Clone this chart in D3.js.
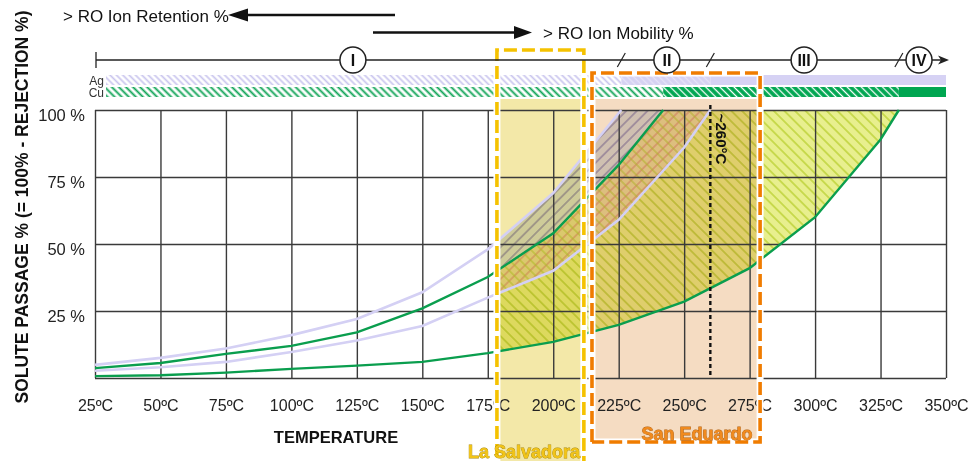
<!DOCTYPE html>
<html><head><meta charset="utf-8">
<script src="https://cdn.jsdelivr.net/npm/d3@7"></script>
<style>
body{margin:0;background:#fff;}
svg{display:block;font-family:"Liberation Sans",Arial,sans-serif;}
</style></head><body>
<svg id="c" width="968" height="461"></svg>
<script>
// ---------- data ----------
const xTicks = [25,50,75,100,125,150,175,200,225,250,275,300,325,350];
const xTickLabels = ["25ºC","50ºC","75ºC","100ºC","125ºC","150ºC","175ºC","200ºC","225ºC","250ºC","275ºC","300ºC","325ºC","350ºC"];
const yGrid = [0,25,50,75,100];
const yTickLabels = ["","25 %","50 %","75 %","100 %"];

const agUpperT = [25,50,75,100,125,150,175,200,226];
const agUpperV = [4.9,7.5,11,16,22,32,48,69,100];
const agLowerT = [25,50,75,100,125,150,175,200,225,250,260];
const agLowerV = [2.7,4,6,9.7,14,19.4,30,40,59,86,100];
const cuUpperT = [25,50,75,100,125,150,175,200,225,242];
const cuUpperV = [3.7,5.6,9,12,17,26,37.7,54,79.5,100];
const cuLowerT = [25,50,75,100,125,150,175,200,225,250,275,300,325,332];
const cuLowerV = [0.7,1,2,3.4,4.6,6,9.3,13.5,19.8,28.5,41,60,89,100];

const phaseLabels = ["I","II","III","IV"];
const phaseT = [123.5,243.4,295.8,339.7];
const slashT = [226,260,332];
const agBarBreaks = [226,260];
const cuBarBreaks = [242,332];
const salvadoraT = [178.5,211.7];
const eduardoT = [214.8,279];
const markerT = 260;

// ---------- setup ----------
const svg = d3.select("#c");
const x = d3.scaleLinear([25,350],[95,946]);
const y = d3.scaleLinear([0,100],[378,110]);
const zip = (a,b)=>a.map((t,i)=>[t,b[i]]);
const line = d3.line().x(d=>x(d[0])).y(d=>y(d[1]));
const defs = svg.append("defs");

function hatch(id, angle, s, bg, color, w){
  const p = defs.append("pattern").attr("id",id).attr("patternUnits","userSpaceOnUse")
    .attr("width",s).attr("height",s).attr("patternTransform",`rotate(${angle})`);
  if(bg) p.append("rect").attr("width",s).attr("height",s).attr("fill",bg);
  p.append("line").attr("x1",s/2).attr("x2",s/2).attr("y1",0).attr("y2",s)
    .attr("stroke",color).attr("stroke-width",w);
}
hatch("agBar1",-45,4.5,"#ffffff","#c9c5ee",1.7);
hatch("agBar2",-45,4.5,"#d6d2f2","#e6e3f8",1.4);
hatch("cuBar1",-45,5,"#ffffff","#12a558",1.9);
hatch("cuBar2",-45,5,"#00a651","#ffffff",1.3);
hatch("cuReg",-45,7.5,null,"#b4cc26",1.2);
hatch("agReg",45,7.5,null,"#7c72b4",1.0);
hatch("ovA",45,7.5,null,"#d88e78",1.0);
hatch("ovB",-45,7.5,null,"#b8cc3a",1.0);

// ---------- Ag / Cu bars ----------
const barStart = x(25)+11, barEnd = x(350);
const agSeg = [[barStart,x(agBarBreaks[0]),"url(#agBar1)"],[x(agBarBreaks[0]),x(agBarBreaks[1]),"url(#agBar2)"],[x(agBarBreaks[1]),barEnd,"#d6d2f4"]];
const cuSeg = [[barStart,x(cuBarBreaks[0]),"url(#cuBar1)"],[x(cuBarBreaks[0]),x(cuBarBreaks[1]),"url(#cuBar2)"],[x(cuBarBreaks[1]),barEnd,"#00a651"]];
svg.selectAll(".ag").data(agSeg).join("rect").attr("x",d=>d[0]).attr("width",d=>d[1]-d[0]).attr("y",75).attr("height",10).attr("fill",d=>d[2]);
svg.selectAll(".cu").data(cuSeg).join("rect").attr("x",d=>d[0]).attr("width",d=>d[1]-d[0]).attr("y",87).attr("height",10).attr("fill",d=>d[2]);
svg.append("text").attr("x",104).attr("y",84.5).attr("text-anchor","end").attr("font-size",12).attr("fill","#333").text("Ag");
svg.append("text").attr("x",104).attr("y",97).attr("text-anchor","end").attr("font-size",12).attr("fill","#333").text("Cu");

// ---------- regions ----------
const agPoly = zip(agUpperT,agUpperV).concat(zip(agLowerT,agLowerV).reverse());
const cuPoly = zip(cuUpperT,cuUpperV).concat(zip(cuLowerT,cuLowerV).reverse());
defs.append("clipPath").attr("id","regClip").append("rect")
  .attr("x",x(salvadoraT[0])).attr("y",100).attr("width",x(350)-x(salvadoraT[0])).attr("height",290);
defs.append("clipPath").attr("id","agClip").append("path").attr("d",line(agPoly)+"Z");
const reg = svg.append("g").attr("clip-path","url(#regClip)");
reg.append("path").attr("d",line(cuPoly)+"Z").attr("fill","#e8ef8e");
reg.append("path").attr("d",line(cuPoly)+"Z").attr("fill","url(#cuReg)");
reg.append("path").attr("d",line(agPoly)+"Z").attr("fill","#d8dfe9");
reg.append("path").attr("d",line(agPoly)+"Z").attr("fill","url(#agReg)");
const ov = reg.append("g").attr("clip-path","url(#agClip)");
ov.append("path").attr("d",line(cuPoly)+"Z").attr("fill","#e6dca6");
ov.append("path").attr("d",line(cuPoly)+"Z").attr("fill","url(#ovA)");
ov.append("path").attr("d",line(cuPoly)+"Z").attr("fill","url(#ovB)");

// ---------- box fills (multiply) ----------
svg.append("rect").attr("x",x(salvadoraT[0])).attr("width",x(salvadoraT[1])-x(salvadoraT[0]))
  .attr("y",99).attr("height",370).attr("fill","#f3e8a8").style("mix-blend-mode","multiply");
svg.append("rect").attr("x",x(eduardoT[0])).attr("width",x(eduardoT[1])-x(eduardoT[0]))
  .attr("y",99).attr("height",343).attr("fill","#f5dcc2").style("mix-blend-mode","multiply");

// ---------- grid / axes ----------
const gx = svg.append("g").attr("transform",`translate(0,${y(0)})`)
  .call(d3.axisBottom(x).tickValues(xTicks).tickSize(-(y(0)-y(100))).tickPadding(22)
    .tickFormat((d,i)=>xTickLabels[i]));
const gy = svg.append("g").attr("transform",`translate(${x(25)},0)`)
  .call(d3.axisLeft(y).tickValues(yGrid).tickSize(-(x(350)-x(25))).tickPadding(10)
    .tickFormat((d,i)=>yTickLabels[i]));
[gx,gy].forEach(g=>{
  g.select(".domain").remove();
  g.selectAll(".tick line").attr("stroke","#3a3a3a").attr("stroke-width",1.4);
  g.selectAll(".tick text").attr("fill","#222")
    .attr("font-family","Liberation Sans, Arial, sans-serif");
});
gx.selectAll(".tick text").attr("font-size",16);
gy.selectAll(".tick text").attr("font-size",16.5).attr("dy","0.62em");

// ---------- curves ----------
const lav = "#d4d0f4", grn = "#0a9e4e";
[[agUpperT,agUpperV],[agLowerT,agLowerV]].forEach(s=>
  svg.append("path").attr("d",line(zip(s[0],s[1]))).attr("fill","none").attr("stroke",lav).attr("stroke-width",2.6));
[[cuUpperT,cuUpperV],[cuLowerT,cuLowerV]].forEach(s=>
  svg.append("path").attr("d",line(zip(s[0],s[1]))).attr("fill","none").attr("stroke",grn).attr("stroke-width",2.4));

// ---------- ~260 marker ----------
svg.append("line").attr("x1",x(markerT)).attr("x2",x(markerT)).attr("y1",105).attr("y2",y(0))
  .attr("stroke","#111").attr("stroke-width",2.4).attr("stroke-dasharray","4,3");
svg.append("text").attr("transform",`translate(${x(markerT)+6},139) rotate(90)`)
  .attr("text-anchor","middle").attr("font-size",15).attr("font-weight","bold").attr("fill","#111").text("~260°C");

// ---------- box outlines ----------
function box(x1,x2,y1,y2,color,bottom){
  const d = bottom ? `M${x1},${y2}V${y1}H${x2}V${y2}H${x1}` : `M${x1},${y2}V${y1}H${x2}V${y2}`;
  svg.append("path").attr("d",d).attr("fill","none").attr("stroke","#fff").attr("stroke-width",7);
  svg.append("path").attr("d",d).attr("fill","none").attr("stroke",color).attr("stroke-width",3.6)
    .attr("stroke-dasharray","13,5");
}
box(x(salvadoraT[0]),x(salvadoraT[1]),50,475,"#f5c200",false);
box(x(eduardoT[0]),x(eduardoT[1]),73,442,"#f07c00",true);
svg.append("text").attr("x",524).attr("y",458).attr("text-anchor","middle").attr("font-size",18)
  .attr("font-weight","bold").attr("fill","#f2c417").attr("stroke","#a98a10").attr("stroke-width",0.8)
  .attr("paint-order","stroke").text("La Salvadora");
svg.append("text").attr("x",697).attr("y",440).attr("text-anchor","middle").attr("font-size",18)
  .attr("font-weight","bold").attr("fill","#f08a1e").attr("stroke","#b06010").attr("stroke-width",0.8)
  .attr("paint-order","stroke").text("San Eduardo");

// ---------- titles ----------
svg.append("text").attr("transform","translate(22,207) rotate(-90)").attr("text-anchor","middle")
  .attr("dominant-baseline","central").attr("font-size",17.5).attr("font-weight","bold").attr("fill","#111")
  .text("SOLUTE PASSAGE % (= 100% - REJECTION %)");
svg.append("text").attr("x",336).attr("y",443).attr("text-anchor","middle").attr("font-size",16.5)
  .attr("font-weight","bold").attr("fill","#111").text("TEMPERATURE");

// ---------- top arrows ----------
svg.append("text").attr("x",63).attr("y",22).attr("font-size",17).attr("fill","#111").text("> RO Ion Retention %");
svg.append("line").attr("x1",395).attr("x2",242).attr("y1",15).attr("y2",15).attr("stroke","#111").attr("stroke-width",2.6);
svg.append("path").attr("d","M228,15L248,8.5L248,21.5Z").attr("fill","#111");
svg.append("line").attr("x1",373).attr("x2",518).attr("y1",32.5).attr("y2",32.5).attr("stroke","#111").attr("stroke-width",2.6);
svg.append("path").attr("d","M532,32.5L514,26L514,39Z").attr("fill","#111");
svg.append("text").attr("x",543).attr("y",39).attr("font-size",17).attr("fill","#111").text("> RO Ion Mobility %");

// ---------- timeline ----------
const tl = 60;
svg.append("line").attr("x1",x(25)+1).attr("x2",x(350)-2).attr("y1",tl).attr("y2",tl).attr("stroke","#222").attr("stroke-width",1.3);
svg.append("line").attr("x1",x(25)+1).attr("x2",x(25)+1).attr("y1",tl-8).attr("y2",tl+8).attr("stroke","#222").attr("stroke-width",1.3);
svg.append("path").attr("d",`M${x(350)+3},${tl}L${x(350)-8},${tl-4.5}L${x(350)-5},${tl}L${x(350)-8},${tl+4.5}Z`).attr("fill","#222");
svg.selectAll(".sl").data(slashT).join("line").attr("x1",d=>x(d)-4).attr("x2",d=>x(d)+4)
  .attr("y1",tl+7).attr("y2",tl-7).attr("stroke","#222").attr("stroke-width",1.2);
const ph = svg.selectAll(".ph").data(phaseT).join("g").attr("transform",d=>`translate(${x(d)},${tl})`);
ph.append("circle").attr("r",13).attr("fill","#fff").attr("stroke","#222").attr("stroke-width",1.5);
ph.append("text").attr("text-anchor","middle").attr("dy","0.36em").attr("font-size",16).attr("font-weight","bold")
  .attr("fill","#111").text((d,i)=>phaseLabels[i]);
</script>
</body></html>
